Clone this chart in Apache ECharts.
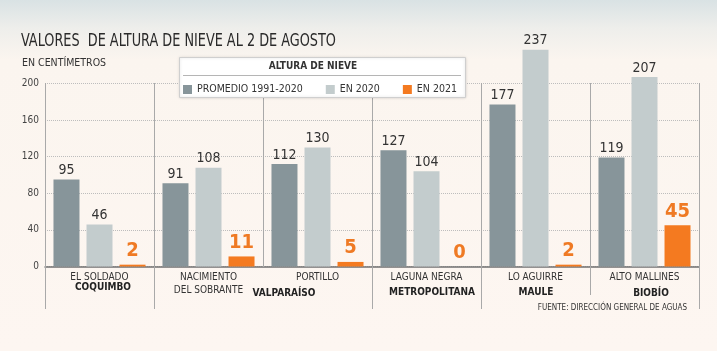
<!DOCTYPE html>
<html>
<head>
    <meta charset="utf-8"/>
    <title>Altura de nieve</title>
    <style type="text/css">
        html, body {
            margin: 0;
            padding: 0;
            width: 717px;
            height: 351px;
            background: linear-gradient(to bottom, #d9e2e4 0px, #eeeeeb 28px, #fbf5ef 60px, #fdf6f1 100%);
        }
        #chart {
            width: 717px;
            height: 351px;
        }
    </style>
    <script type="text/javascript" src="https://cdn.jsdelivr.net/npm/echarts@6/dist/echarts.min.js"></script>
</head>
<body>
<div id="chart"></div>
<script type="text/javascript">
    // datos (cm de nieve)
    var estaciones = ['EL SOLDADO', 'NACIMIENTO\nDEL SOBRANTE', 'PORTILLO', 'LAGUNA NEGRA', 'LO AGUIRRE', 'ALTO MALLINES'];
    var promedio = [95, 91, 112, 127, 177, 119];
    var en2020 = [46, 108, 130, 104, 237, 207];
    var en2021 = [2, 11, 5, 0, 2, 45];
    var ticksY = [0, 40, 80, 120, 160, 200];

    var FONT = '"DejaVu Sans Condensed", "Liberation Sans Narrow", Roboto, sans-serif';
    var gLeft = 45, gRight = 18, gTop = 83.5, gBottom = 84.5;

    var chart = echarts.init(document.getElementById('chart'));

    var option = {
        backgroundColor: 'transparent',
        textStyle: {fontFamily: FONT},
        animation: false,
        legend: {
            left: 178,
            top: 79,
            z: 20,
            icon: 'rect',
            itemWidth: 9,
            itemHeight: 9,
            itemGap: 23,
            textStyle: {fontSize: 10.5, color: '#333', fontFamily: FONT},
            data: ['PROMEDIO 1991-2020', 'EN 2020', 'EN 2021']
        },
        grid: {left: gLeft, right: gRight, top: gTop, bottom: gBottom},
        xAxis: {
            type: 'category',
            data: estaciones,
            axisTick: {show: false},
            axisLine: {show: true, lineStyle: {color: '#707070', width: 1.5}},
            axisLabel: {interval: 0, fontSize: 10, lineHeight: 13, color: '#333', margin: 4, fontFamily: FONT}
        },
        yAxis: {
            type: 'value',
            min: 0,
            max: 200,
            interval: 40,
            axisLine: {show: false},
            axisTick: {show: false},
            axisLabel: {
                fontSize: 10, color: '#444', margin: 6, padding: [6, 0, 0, 0], fontFamily: FONT,
                formatter: function (v) { return ticksY.indexOf(v) >= 0 ? v : ''; }
            },
            splitLine: {show: true, lineStyle: {type: 'dotted', color: '#bdbdbd'}}
        },
        series: [{
            name: 'PROMEDIO 1991-2020',
            type: 'bar',
            data: promedio,
            barWidth: 26,
            barGap: '27%',
            clip: false,
            itemStyle: {color: '#87959a'},
            label: {show: true, position: 'top', distance: 2, fontSize: 14, color: '#333', fontFamily: FONT}
        }, {
            name: 'EN 2020',
            type: 'bar',
            data: en2020,
            barWidth: 26,
            barGap: '27%',
            clip: false,
            itemStyle: {color: '#c3cccd'},
            label: {show: true, position: 'top', distance: 2, fontSize: 14, color: '#333', fontFamily: FONT}
        }, {
            name: 'EN 2021',
            type: 'bar',
            data: en2021,
            barWidth: 26,
            barGap: '27%',
            clip: false,
            itemStyle: {color: '#f47a20'},
            label: {show: true, position: 'top', distance: 4, fontSize: 20, fontWeight: 'bold', color: '#ef7a24', fontFamily: FONT}
        }]
    };
    chart.setOption(option);

    var graficos = [];
    // título y subtítulo (texto estrechado para imitar la fuente condensada)
    graficos.push({
        type: 'text', z: 5, silent: true, x: 21, y: 42, scaleX: 0.84,
        style: {text: 'VALORES  DE ALTURA DE NIEVE AL 2 DE AGOSTO', font: '17px ' + FONT, fill: '#2a2a2a', verticalAlign: 'middle'}
    });
    graficos.push({
        type: 'text', z: 5, silent: true, x: 22, y: 63,
        style: {text: 'EN CENTÍMETROS', font: '10.5px ' + FONT, fill: '#333', verticalAlign: 'middle'}
    });
    // separadores de estación
    var bajo = [309, 309, 267, 309, 309, 295, 309];
    var paso = chart.convertToPixel({xAxisIndex: 0}, 1) - chart.convertToPixel({xAxisIndex: 0}, 0);
    for (var i = 0; i <= estaciones.length; i++) {
        var x = i < estaciones.length ? chart.convertToPixel({xAxisIndex: 0}, i) - paso / 2 : 717 - gRight;
        x = Math.round(x) + 0.5;
        graficos.push({
            type: 'line', z: 1, silent: true,
            shape: {x1: x, y1: 83, x2: x, y2: bajo[i]},
            style: {stroke: '#a9a9a9', lineWidth: 1}
        });
    }
    var regiones = [
        {t: 'COQUIMBO', x: 103, y: 287},
        {t: 'VALPARAÍSO', x: 284, y: 293},
        {t: 'METROPOLITANA', x: 432, y: 292},
        {t: 'MAULE', x: 536, y: 292},
        {t: 'BIOBÍO', x: 651, y: 293}
    ];
    regiones.forEach(function (r) {
        graficos.push({
            type: 'text', z: 5, silent: true, x: r.x, y: r.y,
            style: {text: r.t, font: 'bold 10px ' + FONT, fill: '#222', align: 'center', verticalAlign: 'middle'}
        });
    });
    graficos.push({
        type: 'text', z: 5, silent: true, x: 687, y: 308,
        style: {text: 'FUENTE: DIRECCIÓN GENERAL DE AGUAS', font: '8px ' + FONT, fill: '#333', align: 'right', verticalAlign: 'middle'}
    });
    // caja de la leyenda
    graficos.push({
        type: 'rect', z: 10, silent: true,
        shape: {x: 179.5, y: 57.5, width: 286, height: 40},
        style: {fill: '#ffffff', stroke: '#cfcfcf', lineWidth: 1, shadowBlur: 3, shadowColor: 'rgba(0,0,0,0.15)'}
    });
    graficos.push({
        type: 'text', z: 11, silent: true, x: 313, y: 66,
        style: {text: 'ALTURA DE NIEVE', font: 'bold 10px ' + FONT, fill: '#333', align: 'center', verticalAlign: 'middle'}
    });
    graficos.push({
        type: 'line', z: 11, silent: true,
        shape: {x1: 183, y1: 75.5, x2: 461, y2: 75.5},
        style: {stroke: '#b5b5b5', lineWidth: 1}
    });
    chart.setOption({graphic: {elements: graficos}});
</script>
</body>
</html>
